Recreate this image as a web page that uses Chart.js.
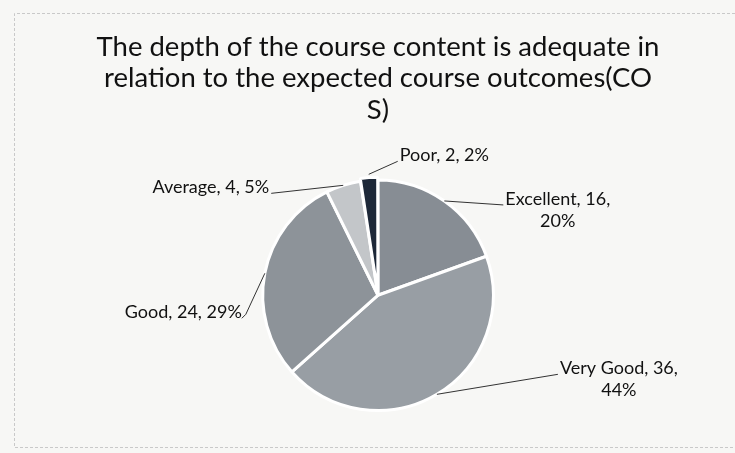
<!DOCTYPE html>
<html>
<head>
<meta charset="utf-8">
<script src="https://cdn.jsdelivr.net/npm/chart.js@4"></script>
<style>
  body { margin: 0; background: #f7f7f5; }
  #wrap { width: 735px; height: 453px; }
</style>
</head>
<body>
<div id="wrap"><canvas id="piechart" width="735" height="453"></canvas></div>
<script>
var categories = ['Excellent', 'Very Good', 'Good', 'Average', 'Poor'];
var counts = [16, 36, 24, 4, 2];
var percents = ['20%', '44%', '29%', '5%', '2%'];

var sliceColors = ['#878d94', '#989ea4', '#8d9399', '#c3c6c9', '#1d2838'];
// label offset from slice edge point: [dx, dy, align, wrap]
var labelPlace = [
    [61, 2, 'left', true],
    [123, -22, 'left', true],
    [-23, 43, 'right', false],
    [-74, 6, 'right', false],
    [31, -15, 'left', false]
];

var pageDeco = {
    id: 'pageDeco',
    beforeDraw: function (chart) {
        var c = chart.ctx;
        c.save();
        c.fillStyle = '#f7f7f5';
        c.fillRect(0, 0, chart.width, chart.height);
        c.strokeStyle = '#c9c9c9';
        c.setLineDash([3, 2]);
        c.lineWidth = 1;
        c.beginPath();
        c.moveTo(740, 13.5);
        c.lineTo(14.5, 13.5);
        c.lineTo(14.5, 447.5);
        c.lineTo(740, 447.5);
        c.stroke();
        c.restore();
    }
};

var sliceLabels = {
    id: 'sliceLabels',
    afterDatasetsDraw: function (chart) {
        var c = chart.ctx;
        var arcs = chart.getDatasetMeta(0).data;
        c.save();
        c.font = '18px Lato, sans-serif';
        c.fillStyle = '#111';
        c.strokeStyle = '#333';
        c.lineWidth = 1;
        arcs.forEach(function (arc, i) {
            var p = arc.getProps(['x', 'y', 'startAngle', 'endAngle', 'outerRadius']);
            var mid = (p.startAngle + p.endAngle) / 2;
            var off = arc.options.offset || 0;
            var ex = p.x + Math.cos(mid) * (p.outerRadius + off);
            var ey = p.y + Math.sin(mid) * (p.outerRadius + off);
            var pl = labelPlace[i];
            var tx = ex + pl[0], ty = ey + pl[1];
            c.beginPath();
            c.moveTo(ex, ey);
            if (i === 2) {
                c.lineTo(tx + 4, ty - 2);
                c.lineTo(tx, ty + 2);
            } else {
                c.lineTo(tx - (pl[2] === 'left' ? 2 : -2), ty + 2);
            }
            c.stroke();
            c.textBaseline = 'middle';
            if (pl[3]) {
                var l1 = categories[i] + ', ' + counts[i] + ',';
                var w = c.measureText(l1).width;
                c.textAlign = 'left';
                c.fillText(l1, tx, ty - 4);
                c.textAlign = 'center';
                c.fillText(percents[i], tx + w / 2, ty + 18);
            } else {
                c.textAlign = pl[2];
                c.fillText(categories[i] + ', ' + counts[i] + ', ' + percents[i], tx, ty - 4);
            }
        });
        c.restore();
    }
};

var crt = document.getElementById('piechart').getContext('2d');
new Chart(crt, {
    type: 'pie',
    data: {
        labels: categories,
        datasets: [{
            data: counts,
            backgroundColor: sliceColors,
            borderColor: '#ffffff',
            borderWidth: 3,
            offset: [0, 0, 0, 0, 6]
        }]
    },
    options: {
        responsive: false,
        animation: false,
        layout: { padding: { top: 0, bottom: 38, left: 21, right: 0 } },
        plugins: {
            legend: { display: false },
            tooltip: { enabled: false },
            title: {
                display: true,
                text: ['The depth of the course content is adequate in',
                       'relation to the expected course outcomes(CO', 'S)'],
                color: '#111',
                font: { family: 'Lato, sans-serif', size: 27.5, weight: 'normal', lineHeight: 1.145 },
                padding: { top: 31, bottom: 50 }
            }
        }
    },
    plugins: [pageDeco, sliceLabels]
});
</script>
</body>
</html>
